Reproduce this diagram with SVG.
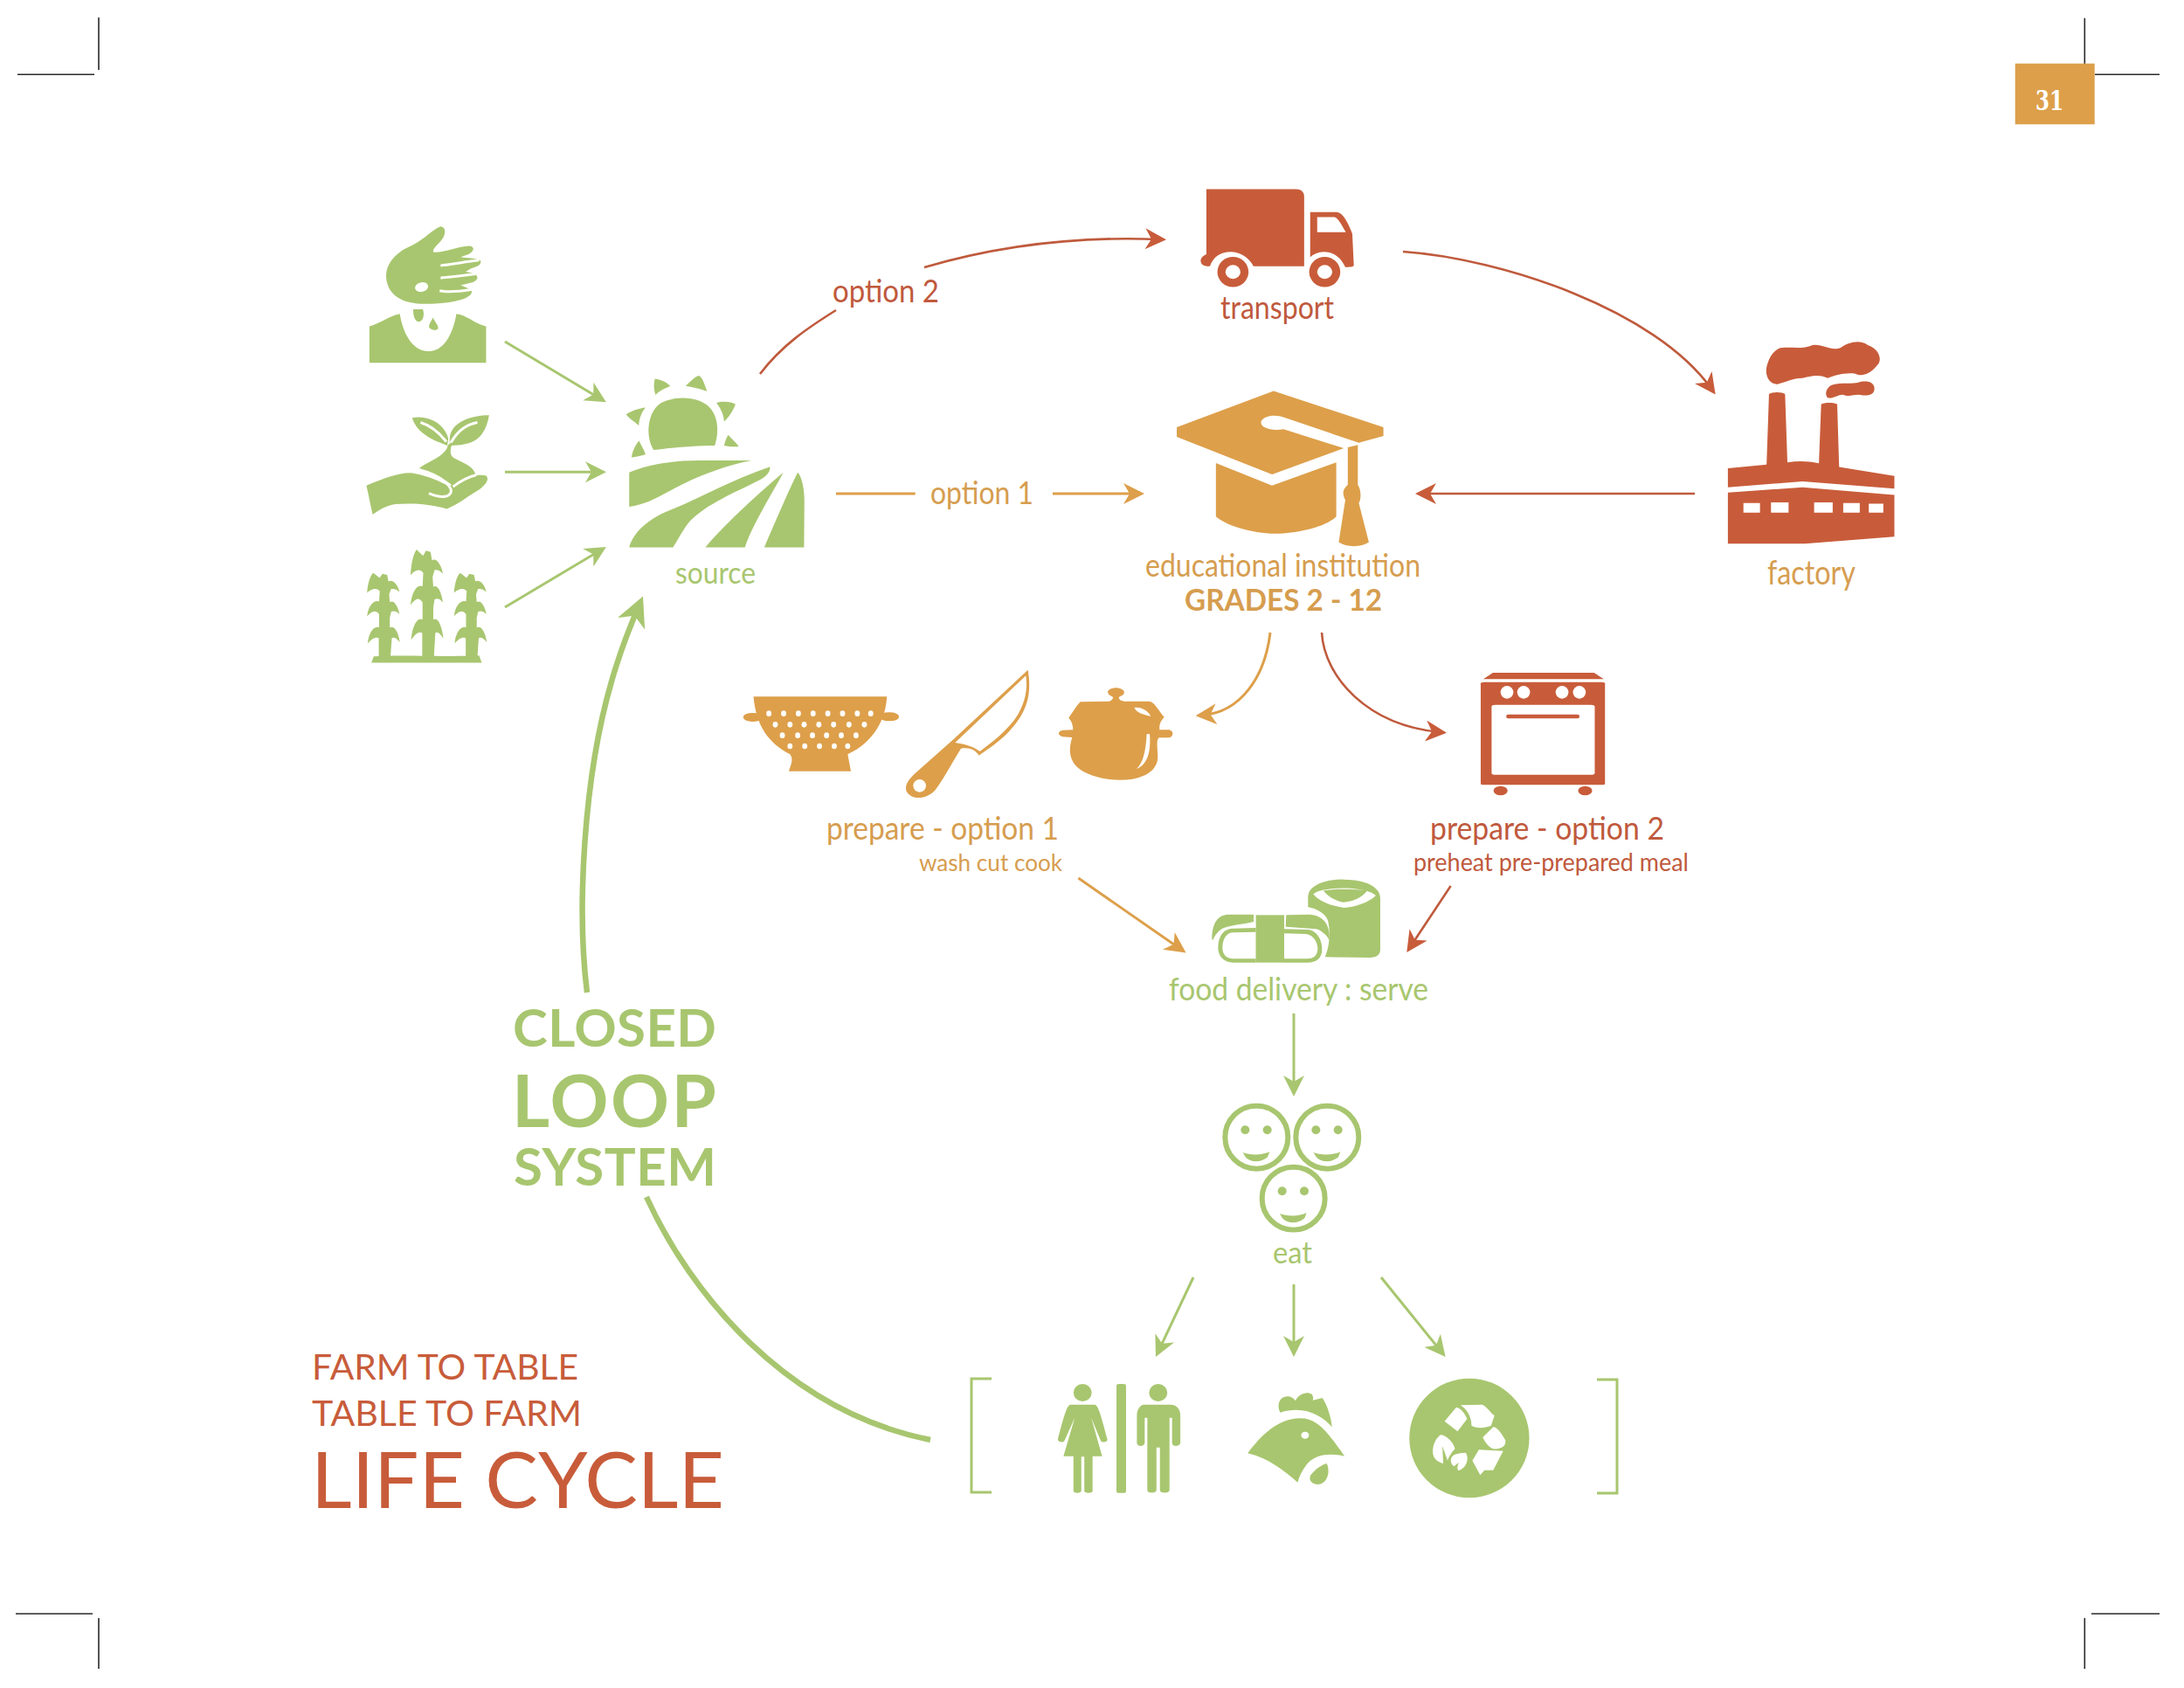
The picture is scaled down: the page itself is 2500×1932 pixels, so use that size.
<svg xmlns="http://www.w3.org/2000/svg" xmlns:xlink="http://www.w3.org/1999/xlink" width="2500" height="1932" viewBox="0 0 2500 1932">
<style>
text{font-family:"Lato","Noto Sans","Liberation Sans",sans-serif;font-weight:400;font-size:36px}
.g{fill:#a8c66f}.o{fill:#dd9f4a}.r{fill:#c85c3a}.w{fill:#fff}
.tg{fill:#a8c66f}.to{fill:#d69d4f}.tr{fill:#c0593d}
.b{font-weight:700}
.ws{fill:none;stroke:#fff;stroke-width:3;vector-effect:non-scaling-stroke}
.c{fill:none;stroke-width:3}
.cg{stroke:#a8c66f}.co{stroke:#dd9f4a}.cr{stroke:#bf5a3c;stroke-width:2.600}
.crop{stroke:#2a2a2a;stroke-width:1.600;fill:none}
</style>
<defs>
<marker id="hg" viewBox="0 0 24 24" markerUnits="userSpaceOnUse" markerWidth="24" markerHeight="24" refX="16" refY="12" orient="auto"><path class="g" d="M24 12L0 0L7 12L0 24Z"/></marker>
<marker id="ho" viewBox="0 0 24 24" markerUnits="userSpaceOnUse" markerWidth="24" markerHeight="24" refX="16" refY="12" orient="auto"><path class="o" d="M24 12L0 0L7 12L0 24Z"/></marker>
<marker id="hr" viewBox="0 0 24 24" markerUnits="userSpaceOnUse" markerWidth="24" markerHeight="24" refX="16" refY="12" orient="auto"><path class="r" d="M24 12L0 0L7 12L0 24Z"/></marker>
<marker id="hb" viewBox="0 0 24 24" markerUnits="userSpaceOnUse" markerWidth="34" markerHeight="34" refX="16" refY="12" orient="auto"><path class="g" d="M24 12L0 0L7 12L0 24Z"/></marker>
<path id="stalk" class="g" d="M-32 0C-24 8-18 15-12 20L-4 4L10 8L14 35C28 25 42 50 47 78C38 68 30 64 22 66L16 88L18 120C30 110 42 135 47 170C38 158 30 155 22 160L18 185L18 225C32 215 44 245 48 285C38 268 30 262 24 268L20 345L-15 345L-15 268C-24 262-34 268-48 290C-46 250-30 215-14 225L-14 170C-25 150-36 158-50 178C-46 135-30 110-14 118L-12 75C-22 60-36 65-50 82C-48 45-42 15-32 0Z"/>
<g id="face">
<circle r="108" fill="none" stroke="#a8c66f" stroke-width="18"/>
<circle class="g" cx="-39" cy="-25" r="15"/><circle class="g" cx="37" cy="-25" r="15"/>
<path class="g" d="M-47 52C-25 62 22 62 45 50L38 68C15 88-20 88-38 68Z"/>
</g>
</defs>
<rect width="2500" height="1932" fill="#fff"/>
<g id="crop-marks">
<path class="crop" d="M20 85.300H108M113 20V80M2386.300 20.700V73M2398 85.300H2472M18 1847H106M113 1852V1910M2386.300 1852V1910M2394 1847H2472"/>
</g>
<g id="page-number">
<rect class="o" x="2306.700" y="72.700" width="91" height="69.600"/>
<text x="2330" y="126" textLength="32" lengthAdjust="spacingAndGlyphs" style="font-family:'DejaVu Serif',serif;font-weight:700;font-size:31px" fill="#fff">31</text>
</g>
<g id="connectors">
<path class="c cg" marker-end="url(#hg)" d="M578 391L687 456.200"/>
<path class="c cg" marker-end="url(#hg)" d="M578 540.300H686"/>
<path class="c cg" marker-end="url(#hg)" d="M578 695L687 630"/>
<path class="c cr" d="M870 428C895 395 925 375 957 355"/>
<path class="c cr" marker-end="url(#hr)" d="M1058 306C1140 282 1230 270 1327 274"/>
<path class="c cr" marker-end="url(#hr)" d="M1606 288C1720 296 1895 355 1959 445"/>
<path class="c cr" marker-end="url(#hr)" d="M1940 565H1628"/>
<path class="c co" d="M957 565H1047.700"/>
<path class="c co" marker-end="url(#ho)" d="M1205 565H1302"/>
<path class="c co" marker-end="url(#ho)" d="M1454 724C1448 775 1420 815 1376.600 818.500"/>
<path class="c cr" marker-end="url(#hr)" d="M1513 724C1516 775 1565 830 1648 838"/>
<path class="c co" marker-end="url(#ho)" d="M1234.400 1005L1351 1086"/>
<path class="c cr" marker-end="url(#hr)" d="M1660.600 1014L1614.700 1083.300"/>
<path class="c cg" marker-end="url(#hg)" d="M1481 1160V1247"/>
<path class="c cg" marker-end="url(#hg)" d="M1366 1462L1326.400 1545.800"/>
<path class="c cg" marker-end="url(#hg)" d="M1481 1470V1545"/>
<path class="c cg" marker-end="url(#hg)" d="M1581 1462L1649.600 1546.800"/>
<path class="c cg" style="stroke-width:6.500" marker-end="url(#hb)" d="M672 1136C660 1040 668 890 700 780C710 745 722 715 731.500 693"/>
<path class="c cg" style="stroke-width:6.500" d="M740 1370C790 1480 900 1615 1065 1648"/>
</g>
<g id="sow">
<g transform="translate(380 220) scale(.3827 .3571)">
<path class="g" d="M325 110C342 112 340 135 330 150C318 168 300 180 303 192C330 196 380 172 412 172C428 174 425 190 410 198L385 208C405 212 432 210 445 220C447 235 430 238 415 245L400 255C420 258 435 262 435 275C432 290 405 292 385 298C400 305 420 310 418 322C410 345 350 358 280 358C210 358 165 330 162 270C162 225 195 190 240 170C280 148 300 120 325 110Z"/>
<path class="ws" d="M325 235C360 232 400 222 440 218M325 275C350 272 390 268 430 262M322 316C345 320 380 318 415 312"/>
<ellipse class="w" cx="268" cy="304" rx="20" ry="15" transform="rotate(-15 268 304)"/>
<path class="g" d="M243 375L272 375C278 395 272 415 258 415C245 410 243 390 243 375ZM302 402C310 420 320 428 317 438C310 445 295 442 290 432C290 422 298 412 302 402Z"/>
<path class="g" d="M112 430C145 420 175 395 203 390C210 440 235 510 290 510C340 510 365 440 372 390C400 392 425 420 461 430L461 547L112 547Z"/>
</g>
</g>
<g id="seedling">
<g transform="translate(380 220) scale(.3827 .3571)">
<path class="g" d="M240 723C280 715 335 735 348 790L345 812C320 800 255 780 240 723ZM470 715C420 715 355 735 352 790L352 812C400 810 455 810 470 715Z"/>
<path class="ws" d="M265 738C295 748 322 772 342 800M435 738C400 745 372 770 355 805"/>
<path class="g" d="M347 810L362 800C352 825 350 845 370 855C395 870 420 875 430 905C410 910 385 925 362 942C340 920 300 900 258 888C280 865 340 850 347 810Z"/>
<path class="g" d="M103 940C150 920 200 898 240 900C270 905 330 925 350 945C365 925 430 900 460 908C475 920 455 945 430 960C400 980 370 1005 343 1015C300 1000 240 995 190 1000C160 1005 140 1020 122 1033C115 1005 110 970 103 940Z"/>
<path class="ws" d="M258 888C300 900 340 920 355 950C362 975 335 985 290 965M362 944C385 925 410 912 432 906"/>
</g>
</g>
<g id="corn">
<g transform="translate(380 220) scale(.3827 .3571)">
<use xlink:href="#stalk" href="#stalk" transform="translate(285 1145)"/>
<use xlink:href="#stalk" href="#stalk" transform="translate(155 1220) scale(1 .78)"/>
<use xlink:href="#stalk" href="#stalk" transform="translate(415 1220) scale(1 .78)"/>
<path class="g" d="M118 1508L125 1488C200 1482 350 1490 440 1485L448 1508Z"/>
</g>
</g>
<g id="source">
<g transform="translate(380 220) scale(.3827 .3571)">
<path class="g" d="M962 826C935 780 945 700 985 675C1030 650 1100 655 1130 690C1160 725 1155 780 1145 812C1090 812 1020 818 962 826Z"/>
<path class="g" d="M966 598C985 600 1005 612 1012 622C995 628 975 640 968 650C962 630 962 615 966 598ZM1098 588C1110 595 1115 620 1122 638C1105 630 1075 625 1058 620C1070 610 1085 590 1098 588ZM1150 675C1170 668 1195 672 1207 680C1200 700 1185 725 1173 735C1172 710 1160 690 1150 675ZM880 712C895 700 920 692 938 690C925 705 918 730 918 748C905 735 888 725 880 712ZM918 797C925 810 935 830 938 840C925 845 908 848 896 850C898 830 908 810 918 797ZM1185 778C1195 790 1210 805 1217 815C1205 817 1185 815 1173 812C1175 800 1180 788 1185 778Z"/>
<path class="g" d="M889 898C950 870 1030 860 1100 860L1255 860C1180 875 1110 905 1050 935C1000 960 950 1000 889 1008Z"/>
<path class="g" d="M1310 880C1312 895 1300 910 1280 922C1200 965 1120 1000 1070 1055C1050 1080 1035 1115 1020 1138L889 1138C905 1080 960 1040 1020 1015C1100 980 1200 920 1310 880Z"/>
<path class="g" d="M1350 898C1320 960 1260 1060 1235 1138L1117 1138C1170 1070 1260 980 1350 898Z"/>
<path class="g" d="M1393 898C1405 910 1413 950 1413 990L1412 1138L1293 1138C1320 1070 1360 970 1393 898Z"/>
</g>
<text class="tg" x="773" y="668" textLength="92" lengthAdjust="spacingAndGlyphs" style="font-size:34px">source</text>
</g>
<text class="tr" x="953" y="346" textLength="122" lengthAdjust="spacingAndGlyphs">option 2</text>
<text class="to" x="1065" y="577" textLength="118" lengthAdjust="spacingAndGlyphs">option 1</text>
<g id="transport">
<g transform="translate(1300 190) scale(.574 .3444)">
<path class="r" d="M141 77L320 77C332 77 336 90 336 100L336 333L235 333C225 300 205 285 190 285C170 285 155 300 148 333C135 335 128 325 130 310C132 300 138 295 141 293Z"/>
<path class="r" d="M348 153L400 153C412 155 420 175 432 225L435 330C435 335 425 336 418 336C410 305 395 285 375 285C365 285 352 295 348 303Z"/>
<path class="w" d="M362 170L397 170C405 175 412 200 419 220L362 220Z"/>
<ellipse class="r" cx="194" cy="352" rx="31" ry="50"/><ellipse class="w" cx="194" cy="352" rx="15" ry="23"/>
<ellipse class="r" cx="377" cy="352" rx="31" ry="50"/><ellipse class="w" cx="377" cy="352" rx="15" ry="23"/>
</g>
<text class="tr" x="1397" y="365" textLength="130" lengthAdjust="spacingAndGlyphs">transport</text>
</g>
<g id="factory">
<g transform="translate(1300 190) scale(.574 .3444)">
<path class="r" d="M1285 605C1310 600 1330 610 1350 595C1370 590 1385 615 1405 605C1420 585 1445 575 1460 595C1480 605 1490 640 1480 660C1470 680 1455 705 1435 690C1415 685 1395 695 1380 705C1360 690 1345 700 1330 705C1310 705 1295 720 1280 725C1265 725 1255 700 1258 670C1262 640 1270 615 1285 605Z"/>
<path class="r" d="M1385 730C1400 718 1420 725 1440 720C1455 712 1470 715 1473 735C1475 755 1465 765 1450 762C1435 755 1425 770 1410 760C1400 760 1390 775 1380 770C1375 760 1375 745 1385 730Z"/>
<path class="r" d="M1263 758C1268 750 1290 750 1295 758L1300 1000L1258 1000ZM1367 792C1372 785 1394 785 1399 792L1403 1010L1362 1010Z"/>
<path class="r" d="M1181 1005L1258 992L1300 985C1320 980 1340 980 1362 988L1403 1000L1513 1030L1513 1072L1330 1048L1181 1068Z"/>
<path class="r" d="M1181 1085L1330 1068L1513 1093L1513 1232L1335 1255L1181 1255Z"/>
<path class="w" d="M1212 1120H1245V1152H1212ZM1267 1118H1302V1152H1267ZM1353 1118H1390V1152H1353ZM1411 1120H1444V1152H1411ZM1462 1122H1491V1152H1462Z"/>
</g>
<text class="to" x="2023" y="669" textLength="101" lengthAdjust="spacingAndGlyphs" style="font-size:38px">factory</text>
</g>
<g id="school">
<g transform="translate(1300 190) scale(.574 .3444)">
<path class="o" d="M82 868L275 748L494 868L494 897L445 920L300 838C285 825 255 825 250 850C248 870 270 882 295 875L415 938L272 1025L82 900Z"/>
<path class="o" d="M160 987L272 1062L400 985L400 1165C380 1200 320 1222 280 1222C240 1222 185 1200 160 1165Z"/>
<path class="o" d="M423 935L443 927L443 1060C450 1075 450 1110 445 1120L465 1250C450 1268 420 1268 405 1250L418 1110C412 1090 412 1075 423 1060Z"/>
</g>
<text class="to" x="1311" y="659.500" textLength="315" lengthAdjust="spacingAndGlyphs">educational institution</text>
<text class="to b" x="1356" y="699" textLength="226" lengthAdjust="spacingAndGlyphs" style="font-size:35px">GRADES 2 - 12</text>
</g>
<g id="prepare-1">
<g transform="translate(820 740) scale(.7334 .3333)">
<path class="o" d="M58 172L266 172C265 250 245 330 205 370L210 428L113 428C118 400 120 385 115 370C80 330 62 270 58 172Z"/>
<rect class="o" x="42" y="228" width="30" height="30" rx="14"/><rect class="o" x="255" y="226" width="30" height="30" rx="14"/>
<g class="w">
<ellipse cx="82" cy="230" rx="4" ry="10"/><ellipse cx="105" cy="230" rx="4" ry="10"/><ellipse cx="128" cy="230" rx="4" ry="10"/><ellipse cx="151" cy="230" rx="4" ry="10"/><ellipse cx="174" cy="230" rx="4" ry="10"/><ellipse cx="197" cy="230" rx="4" ry="10"/><ellipse cx="220" cy="230" rx="4" ry="10"/><ellipse cx="241" cy="230" rx="4" ry="10"/>
<ellipse cx="92" cy="268" rx="4" ry="10"/><ellipse cx="115" cy="268" rx="4" ry="10"/><ellipse cx="137" cy="268" rx="4" ry="10"/><ellipse cx="160" cy="268" rx="4" ry="10"/><ellipse cx="183" cy="268" rx="4" ry="10"/><ellipse cx="207" cy="268" rx="4" ry="10"/><ellipse cx="231" cy="268" rx="4" ry="10"/>
<ellipse cx="103" cy="305" rx="4" ry="10"/><ellipse cx="127" cy="305" rx="4" ry="10"/><ellipse cx="150" cy="305" rx="4" ry="10"/><ellipse cx="172" cy="305" rx="4" ry="10"/><ellipse cx="195" cy="305" rx="4" ry="10"/><ellipse cx="218" cy="305" rx="4" ry="10"/>
<ellipse cx="115" cy="342" rx="4" ry="10"/><ellipse cx="138" cy="342" rx="4" ry="10"/><ellipse cx="161" cy="342" rx="4" ry="10"/><ellipse cx="184" cy="342" rx="4" ry="10"/><ellipse cx="205" cy="342" rx="4" ry="10"/>
</g>
</g>
<g transform="translate(1020 760) scale(.3333)">
<path class="o" d="M470 20C480 80 475 130 445 180C400 250 350 280 302 314C290 295 270 285 240 290C220 320 190 380 150 435C120 465 70 470 52 435C45 410 70 385 100 360L215 258Z"/>
<path class="w" d="M463 40C470 90 460 130 435 175C400 230 345 270 305 300C285 285 255 275 220 270Z"/>
<circle class="w" cx="98" cy="418" r="22"/>
<path class="o" d="M650 130L750 128C760 125 765 115 760 112C740 105 735 85 770 82C805 82 810 105 785 112C778 118 785 125 800 128L885 128C905 130 915 155 938 182C925 195 920 210 922 226L955 226C972 230 970 250 955 253L920 253C910 260 915 290 916 320C915 360 880 385 830 395C760 405 680 390 640 355C610 325 610 290 622 252L590 250C570 245 572 230 590 227L625 226C625 210 620 195 610 185C625 165 635 145 650 130Z"/>
<path class="w" d="M835 150C855 145 885 160 892 180C875 175 845 170 835 150ZM888 240C893 290 885 345 843 360C865 340 875 300 878 240Z"/>
</g>
<text class="to" x="946" y="961" textLength="266" lengthAdjust="spacingAndGlyphs">prepare - option 1</text>
<text class="to" x="1052" y="997" textLength="164" lengthAdjust="spacingAndGlyphs" style="font-size:27px">wash cut cook</text>
</g>
<g id="prepare-2">
<g transform="translate(820 740) scale(.7334 .3333)">
<path class="r" d="M1197 112L1212 90L1370 90L1385 112Z"/>
<rect class="r" x="1193" y="122" width="194" height="353" rx="5"/>
<g class="w"><ellipse cx="1234" cy="157" rx="10" ry="22"/><ellipse cx="1260" cy="157" rx="10" ry="22"/><ellipse cx="1320" cy="157" rx="10" ry="22"/><ellipse cx="1347" cy="157" rx="10" ry="22"/><rect x="1210" y="200" width="161" height="240" rx="6"/></g>
<rect class="r" x="1233" y="233" width="114" height="14" rx="4"/>
<ellipse class="r" cx="1224" cy="495" rx="11" ry="16"/><ellipse class="r" cx="1356" cy="495" rx="11" ry="16"/>
</g>
<text class="tr" x="1637" y="961" textLength="268" lengthAdjust="spacingAndGlyphs">prepare - option 2</text>
<text class="tr" x="1618" y="997" textLength="315" lengthAdjust="spacingAndGlyphs" style="font-size:28px">preheat pre-prepared meal</text>
</g>
<g id="food-delivery">
<g transform="translate(1300 990) scale(.3333)">
<path class="g" d="M592 110C592 70 650 48 715 50C790 50 840 75 840 115L840 290C840 310 825 318 800 318L650 316C662 290 672 240 660 190C650 165 620 150 592 145Z"/>
<path class="w" d="M610 100C640 72 790 72 825 105C800 130 750 145 715 147C670 140 630 125 610 100Z"/>
<path class="g" d="M645 88C680 82 750 82 795 88C780 110 745 128 712 128C690 125 660 110 645 88Z"/>
<path class="g" d="M262 255C262 195 285 170 320 170L405 170L405 195C370 205 320 205 295 220C280 230 270 245 265 258Z"/>
<path class="g" d="M517 172L590 170C640 170 670 200 665 260C660 245 640 225 620 220L515 212Z"/>
<path class="g" d="M335 218L413 216V335L335 335C300 335 283 310 283 285C283 240 305 218 335 218Z"/>
<path class="w" d="M335 232L413 230V322L335 322C310 322 298 305 298 285C298 255 312 232 335 232Z"/>
<path class="g" d="M510 220L590 222C625 225 640 260 640 290C640 320 620 335 590 335L510 335Z"/>
<path class="w" d="M510 235L585 237C610 240 625 265 625 288C625 308 612 322 590 322L510 322Z"/>
<rect class="g" x="413" y="172" width="97" height="163"/>
</g>
<text class="tg" x="1338" y="1144.500" textLength="297" lengthAdjust="spacingAndGlyphs">food delivery : serve</text>
</g>
<g id="eat">
<g transform="translate(1300 990) scale(.3333)">
<use xlink:href="#face" href="#face" transform="translate(415 935)"/>
<use xlink:href="#face" href="#face" transform="translate(658 935)"/>
<use xlink:href="#face" href="#face" transform="translate(542 1145)"/>
</g>
<text class="tg" x="1457" y="1446" textLength="45" lengthAdjust="spacingAndGlyphs" style="font-size:34px">eat</text>
</g>
<g id="outcomes">
<path fill="none" stroke="#a8c66f" stroke-width="3" d="M1135 1578H1112V1708H1135M1828 1579H1851V1709H1828"/>
<g id="restroom" transform="translate(1090 1540) scale(.4974 .3333)">
<ellipse class="g" cx="300" cy="162" rx="21" ry="30"/>
<path class="g" d="M272 203L328 203C335 205 340 225 357 322C358 332 345 335 342 328L320 248L345 380L323 380L323 500C322 508 305 508 304 500L304 382L297 382L297 500C295 508 280 508 279 500L279 380L256 380L282 248L258 328C255 335 243 332 243 322C260 225 265 205 272 203Z"/>
<rect class="g" x="378" y="132" width="22" height="374" rx="6"/>
<ellipse class="g" cx="474" cy="162" rx="21" ry="30"/>
<path class="g" d="M440 203L505 203C518 205 525 220 525 240L525 335C522 348 507 348 506 335L506 248L500 248L500 498C498 508 480 508 478 498L478 350L470 350L470 498C468 508 450 508 449 498L449 248L443 248L443 335C440 348 427 348 425 335L425 240C425 220 432 205 440 203Z"/>
</g>
<g id="chicken" transform="translate(1090 1540) scale(.4974 .3333)">
<path class="g" d="M755 230C745 200 755 172 775 175C785 178 790 190 790 190C795 170 815 155 828 168C832 178 830 188 830 188L852 180C865 210 872 250 874 280C850 240 810 205 755 230Z"/>
<path class="g" d="M680 370C710 310 750 250 800 250C840 250 860 290 903 380C860 365 830 380 815 410C805 430 798 450 795 470C760 425 725 385 680 370Z"/>
<ellipse class="w" cx="812" cy="308" rx="9" ry="12"/>
<path class="g" d="M862 405C872 440 860 478 840 477C825 475 820 460 825 445C835 425 850 410 862 405Z"/>
</g>
<g id="recycle" transform="translate(1090 1540) scale(.4974 .3333)">
<ellipse class="g" cx="1190" cy="318" rx="138" ry="205"/>
<path class="w" d="M1170 205L1220 203C1235 215 1240 235 1248 240L1240 275C1225 285 1205 285 1195 275C1195 255 1190 225 1170 205ZM1160 212C1172 215 1180 235 1185 252L1163 295L1133 260ZM1245 280C1255 280 1265 305 1273 325C1275 345 1265 357 1245 355C1235 350 1225 330 1221 315ZM1212 358L1268 362L1245 428L1225 428L1215 445L1197 395ZM1125 306C1145 315 1155 340 1157 355C1150 365 1142 385 1140 395L1128 345L1130 405C1115 400 1105 385 1106 360C1107 335 1115 315 1125 306ZM1182 368C1190 385 1185 420 1165 430C1160 420 1165 410 1165 402L1155 415C1145 405 1145 385 1155 375C1165 370 1175 368 1182 368Z"/>
</g>
</g>
<g id="title-loop">
<text class="tg b" x="587" y="1198.400" textLength="233" lengthAdjust="spacing" style="font-size:60px">CLOSED</text>
<text class="tg b" x="586" y="1289.800" textLength="234" lengthAdjust="spacing" style="font-size:83px">LOOP</text>
<text class="tg b" x="588" y="1357.300" textLength="232" lengthAdjust="spacing" style="font-size:60px">SYSTEM</text>
</g>
<g id="title-cycle">
<text class="r" x="357" y="1578.500" textLength="305" lengthAdjust="spacingAndGlyphs" style="font-size:41px">FARM TO TABLE</text>
<text class="r" x="357" y="1632" textLength="309" lengthAdjust="spacingAndGlyphs" style="font-size:41px">TABLE TO FARM</text>
<text class="r" x="356" y="1725.500" textLength="473" lengthAdjust="spacingAndGlyphs" style="font-size:89px">LIFE CYCLE</text>
</g>
</svg>
